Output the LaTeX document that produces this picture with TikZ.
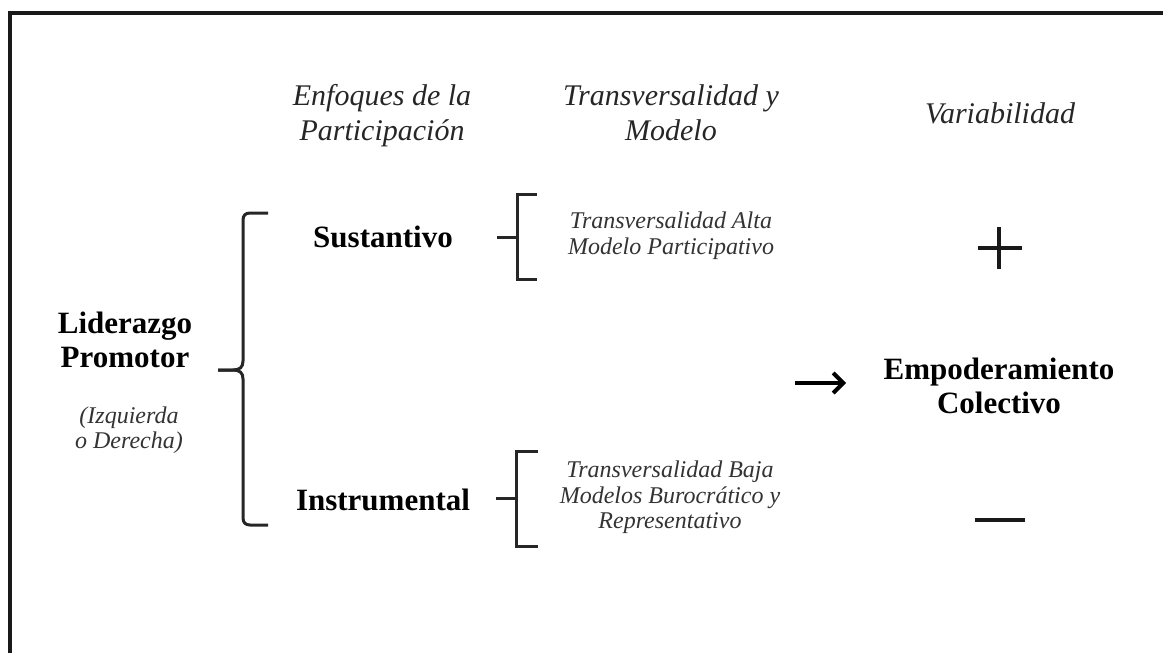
\documentclass[tikz,border=0pt]{standalone}
\usepackage{fontspec}
\setmainfont{Liberation Serif}
\usetikzlibrary{arrows.meta}
\tikzset{
 bigbold/.style={font=\fontsize{31}{36}\selectfont\bfseries, anchor=base, inner sep=0pt, text=black},
 headit/.style={font=\fontsize{30}{35}\selectfont\itshape, anchor=base, inner sep=0pt, text=black!85},
 smallit/.style={font=\fontsize{24}{28}\selectfont\itshape, anchor=base, inner sep=0pt, text=black!80},
 frameline/.style={line width=3.2pt, draw=black!90},
 bracket/.style={line width=3pt, draw=black!85},
 signline/.style={line width=3.2pt, draw=black!90},
}
\begin{document}
\begin{tikzpicture}[x=1pt,y=-1pt]
\useasboundingbox (0,0) rectangle (1163,653);
% frame
\coordinate (fb) at (10,660);
\coordinate (fc) at (10,13);
\coordinate (fr) at (1170,13);
\draw[frameline] (fb) -- (fc) -- (fr);

% headers
\node[headit] (h1a) at (382,105) {Enfoques de la};
\node[headit] (h1b) at (382,140) {Participación};
\node[headit] (h2a) at (671,105) {Transversalidad y};
\node[headit] (h2b) at (671,140) {Modelo};
\node[headit] (h3) at (1000,123) {Variabilidad};

% left
\node[bigbold] (lid1) at (125,333) {Liderazgo};
\node[bigbold] (lid2) at (125,367) {Promotor};
\node[smallit] (izq1) at (129,423) {(Izquierda};
\node[smallit] (izq2) at (129,448) {o Derecha)};

% big brace
\coordinate (bt) at (268,213);
\coordinate (bb) at (268,525);
\coordinate (bm) at (218,370);
\draw[bracket] (bt) -- (250,213) .. controls (245.5,213) and (243,215.5) .. (243,220)
  -- (243,361) .. controls (243,367) and (240,370) .. (233,370) -- (bm);
\draw[bracket] (bm) -- (233,370) .. controls (240,370) and (243,373) .. (243,379)
  -- (243,518) .. controls (243,522.5) and (245.5,525) .. (250,525) -- (bb);

% approaches
\node[bigbold] (sus) at (383,247) {Sustantivo};
\node[bigbold] (ins) at (383,510) {Instrumental};

% small brackets
\coordinate (k1t) at (537,194);
\coordinate (k1b) at (537,279);
\coordinate (k1m) at (497,237);
\draw[bracket] (k1t) -- (517,194) -- (517,279) -- (k1b);
\draw[bracket] (k1m) -- (517,237);
\node[smallit] (t1a) at (671,228) {Transversalidad Alta};
\node[smallit] (t1b) at (671,254) {Modelo Participativo};

\coordinate (k2t) at (538,451);
\coordinate (k2b) at (538,546);
\coordinate (k2m) at (496,498);
\draw[bracket] (k2t) -- (516,451) -- (516,546) -- (k2b);
\draw[bracket] (k2m) -- (516,498);
\node[smallit] (t2a) at (670,477) {Transversalidad Baja};
\node[smallit] (t2b) at (670,503) {Modelos Burocrático y};
\node[smallit] (t2c) at (670,528) {Representativo};

% arrow and result
\coordinate (as) at (795,383);
\coordinate (ae) at (846,383);
\draw[line width=4pt, -{Straight Barb[length=10pt,width=20pt,line width=4pt]}] (as) -- (ae);
\node[bigbold] (emp1) at (999,379) {Empoderamiento};
\node[bigbold] (emp2) at (999,413) {Colectivo};

% signs
\coordinate (pl) at (978,248);
\coordinate (pr) at (1022,248);
\coordinate (pt) at (999,227);
\coordinate (pb) at (999,269);
\draw[signline] (pl) -- (pr);
\draw[signline] (pt) -- (pb);
\coordinate (ml) at (975,520);
\coordinate (mr) at (1025,520);
\draw[signline, line width=4pt] (ml) -- (mr);
\end{tikzpicture}
\end{document}
